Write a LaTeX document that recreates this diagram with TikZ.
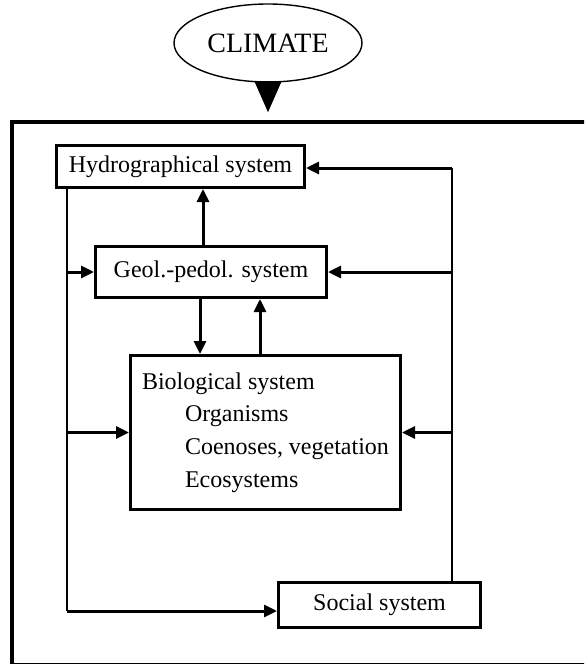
\documentclass[tikz,border=0pt]{standalone}
\usepackage{fontspec}
\setmainfont{Liberation Serif}
\usetikzlibrary{arrows.meta, positioning, shapes.geometric}

\begin{document}
\begin{tikzpicture}[
    x=0.5pt, y=-0.5pt,
    every node/.style={font=\fontsize{12}{16.3}\selectfont},
    sysbox/.style={draw, line width=1.5pt, inner sep=0pt, align=center},
    trunk/.style={line width=1pt},
    arr/.style={-{Triangle[length=6.5pt, width=6pt]}, line width=1.5pt},
    bigarr/.style={-{Triangle[length=15.5pt, width=13.5pt]}, line width=0.6pt}
]
\useasboundingbox (0,0) rectangle (584,664);
\clip (0,0) rectangle (584,664);

% =============================================
% CLIMATE AND OUTER FRAME
% =============================================
\node[draw, line width=1.8pt, minimum width=304pt, minimum height=271.5pt] (frame) at (316,393.5) {};

\node[draw, ellipse, line width=0.7pt, minimum width=94pt, minimum height=39pt, inner sep=0pt,
    font=\fontsize{14}{16}\selectfont] (climate) at (268,43) {CLIMATE};

\draw[bigarr] (climate.south) -- (climate.south |- frame.north) [shorten >=4pt];

% =============================================
% SYSTEMS
% =============================================
\node[sysbox, minimum width=124pt, minimum height=21pt] (hydro) at (180.5,166.5) {Hydrographical system};
\node[sysbox, minimum width=115.5pt, minimum height=25.5pt] (geol) at (211,272) {Geol.-pedol. system};
\node[sysbox, align=left, minimum width=135pt, minimum height=77pt] (bio) at (265.5,432.5)
    {Biological system\\
     \hspace*{21.5pt}Organisms\\
     \hspace*{21.5pt}Coenoses, vegetation\\
     \hspace*{21.5pt}Ecosystems};
\node[sysbox, minimum width=101pt, minimum height=22.5pt] (social) at (379.5,605) {Social system};

% corners of the two feedback lines
\coordinate (lt) at (67,611);
\coordinate (rt) at (452,168);
\coordinate (xa) at (203,0);
\coordinate (xb) at (200,0);
\coordinate (xc) at (260,0);

% =============================================
% CONNECTORS
% =============================================
% between the systems
\draw[arr] (geol.north -| xa) -- (hydro.south -| xa);
\draw[arr] (geol.south -| xb) -- (bio.north -| xb);
\draw[arr] (bio.north -| xc) -- (geol.south -| xc);

% left line from hydrographical system
\draw[trunk] (hydro.south -| lt) -- (lt);
\draw[arr] (geol.west -| lt) -- (geol.west);
\draw[arr] (bio.west -| lt) -- (bio.west);
\draw[arr] (lt) -- (lt -| social.west);

% right line from social system
\draw[trunk] (social.north -| rt) -- (rt);
\draw[arr] (rt) -- (rt -| hydro.east);
\draw[arr] (geol.east -| rt) -- (geol.east);
\draw[arr] (bio.east -| rt) -- (bio.east);

\end{tikzpicture}
\end{document}
